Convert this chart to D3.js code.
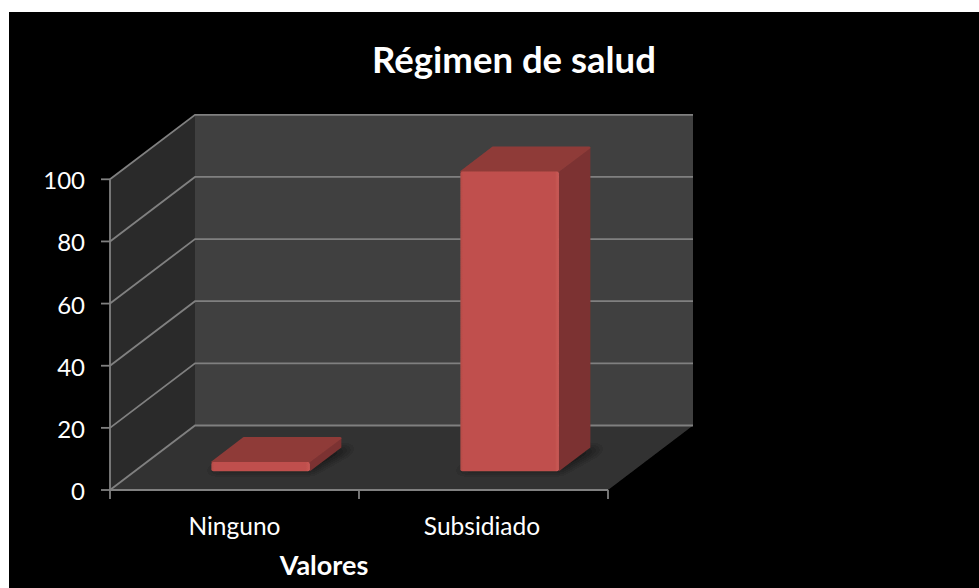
<!DOCTYPE html>
<html><head><meta charset="utf-8">
<script src="https://cdn.jsdelivr.net/npm/d3@7/dist/d3.min.js"></script>
<style>html,body{margin:0;padding:0;background:#fff;overflow:hidden}svg{display:block}text{font-family:Lato,"Open Sans",sans-serif;fill:#fff}</style>
</head><body><svg id="c" width="979" height="588"></svg>
<script>
const titleText = "Régimen de salud";
const xAxisTitle = "Valores";
const categories = ["Ninguno", "Subsidiado"];
const values = [3, 96.5];
const yTicks = [0, 20, 40, 60, 80, 100];

const svg = d3.select("#c");
const defs = svg.append("defs");
defs.append("filter").attr("id","blur").attr("x","-20%").attr("y","-20%").attr("width","140%").attr("height","140%")
  .append("feGaussianBlur").attr("stdDeviation",4);
defs.append("filter").attr("id","soft").attr("x","-5%").attr("y","-5%").attr("width","110%").attr("height","110%")
  .append("feGaussianBlur").attr("stdDeviation",0.5);
const g3 = defs.append("linearGradient").attr("id","front").attr("x1",0).attr("x2",1).attr("y1",0).attr("y2",0);
[[0,"#b34b48"],[0.03,"#c0504d"],[0.96,"#c0504d"],[1,"#cb5a57"]].forEach(s=>g3.append("stop").attr("offset",s[0]).attr("stop-color",s[1]));

svg.append("rect").attr("x",9).attr("y",12).attr("width",970).attr("height",576).attr("fill","#000");

const x = d3.scaleBand().domain(categories).range([110,608]).paddingInner(0.6).paddingOuter(0.3);
const y = d3.scaleLinear().domain([0,100]).range([490,179.3]);
const depth = {dx:85, dy:-64.5};
const barDepth = {start:0.29, end:0.66, shift:2};
const line = d3.line();
const P = (vx, vy, t) => [vx + depth.dx*t, y(vy) + depth.dy*t];
const [x0,x1] = x.range();
const floorY = 0, topY = 100;
const plot = svg.append("g").attr("filter","url(#soft)");

// walls
plot.append("path").attr("fill","#404040").attr("d", line([P(x0,topY,1),P(x1,topY,1),P(x1,floorY,1),P(x0,floorY,1)])+"Z");
plot.append("path").attr("fill","#2a2a2a").attr("d", line([P(x0,topY,0),P(x0,topY,1),P(x0,floorY,1),P(x0,floorY,0)])+"Z");
plot.append("path").attr("fill","#333333").attr("d", line([P(x0,floorY,0),P(x0,floorY,1),P(x1,floorY,1),P(x1,floorY,0)])+"Z");

// gridlines
const gridColor = "#808080";
const sw = 1.8;
yTicks.forEach(t=>{
  plot.append("path").attr("fill","none").attr("stroke",gridColor).attr("stroke-width",sw)
    .attr("d", line([P(x0,t,0),P(x0,t,1),P(x1,t,1)]));
  plot.append("path").attr("fill","none").attr("stroke",gridColor).attr("stroke-width",sw)
    .attr("d", line([[x0-9,y(t)],[x0,y(t)]]));
  svg.append("text").attr("x",x0-25).attr("y",y(t)+10).attr("text-anchor","end").attr("font-size",24).text(t);
});
// axes
plot.append("path").attr("fill","none").attr("stroke",gridColor).attr("stroke-width",sw).attr("d", line([P(x0,topY,0),P(x0,floorY,0),P(x1,floorY,0)]));
const step = x.step();
d3.range(0,categories.length+1).forEach(i=>{
  const tx = x0 + i*step;
  plot.append("path").attr("stroke",gridColor).attr("stroke-width",sw).attr("d", line([[tx,y(0)],[tx,y(0)+9]]));
});

// bars
categories.forEach((c,i)=>{
  const a = x(c)+barDepth.shift, b = a + x.bandwidth()-1, v = values[i];
  const S = barDepth.start, E = barDepth.end;
  const g = plot.append("g");
  g.append("path").attr("fill","#000").attr("opacity",0.5).attr("filter","url(#blur)")
    .attr("d", line([P(a-5,0,S-0.01),P(b+3,0,S-0.01),P(b+14,0,E),P(a+10,0,E)])+"Z");
  // side
  g.append("path").attr("fill","#7b3331").attr("d", line([P(b,0,S),P(b,0,E),P(b,v,E),P(b,v,S)])+"Z");
  // top
  g.append("path").attr("fill","#8f3b39").attr("stroke","#8f3b39").attr("stroke-width",2).attr("stroke-linejoin","round")
    .attr("d", line([P(a+1,v,S),P(b-1,v,S),P(b-1,v,E),P(a+1,v,E)])+"Z");
  // front
  const fa = P(a,v,S), fb = P(b,0,S);
  g.append("rect").attr("x",fa[0]).attr("y",fa[1]).attr("width",fb[0]-fa[0]).attr("height",fb[1]-fa[1]).attr("rx",2).attr("fill","url(#front)");
  svg.append("text").attr("x",x(c)+x.bandwidth()/2+ (i?-1.5:0)).attr("y",535).attr("text-anchor","middle").attr("font-size",24.5).text(c);
});

svg.append("text").attr("x",514).attr("y",73).attr("text-anchor","middle").attr("font-size",36.5).attr("font-weight",700).text(titleText);
svg.append("text").attr("x",324).attr("y",575).attr("text-anchor","middle").attr("font-size",27).attr("font-weight",700).text(xAxisTitle);
</script></body></html>
